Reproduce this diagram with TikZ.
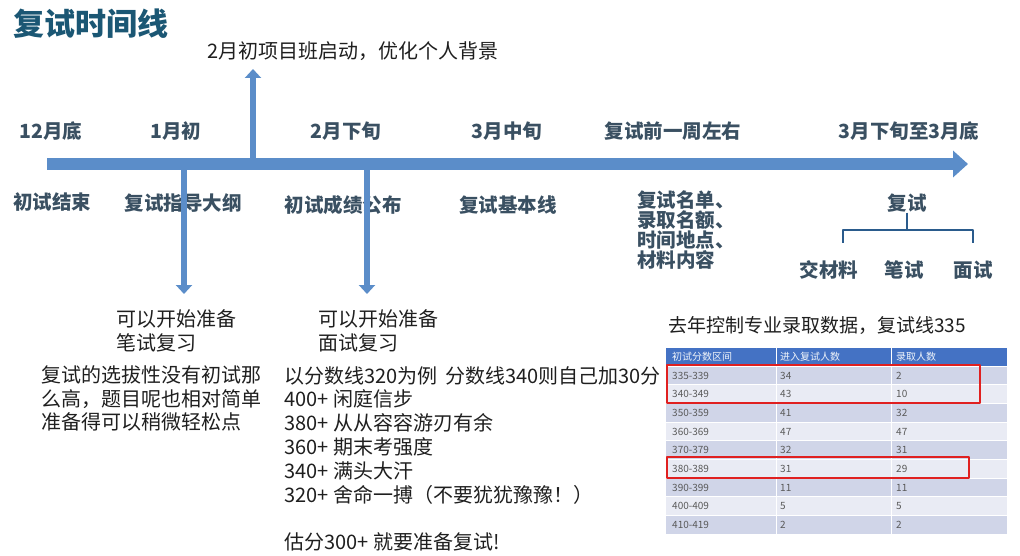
\documentclass[tikz,border=0pt]{standalone}
\usepackage{fontspec}
\setmainfont{Noto Sans CJK SC}
\usetikzlibrary{arrows.meta}

\definecolor{titleteal}{HTML}{1B5774}
\definecolor{labelslate}{HTML}{3A5062}
\definecolor{arrowblue}{HTML}{5B8DC9}
\definecolor{bracketblue}{HTML}{2A5B8C}
\definecolor{theadblue}{HTML}{4472C4}
\definecolor{rowdark}{HTML}{D0D5E8}
\definecolor{rowlight}{HTML}{E9EBF4}
\definecolor{cellgray}{HTML}{5A5A5A}
\definecolor{boxred}{HTML}{E02020}

\tikzset{
  heading/.style={anchor=base west, inner sep=0pt, text=titleteal, font=\bfseries\fontsize{31}{36}\selectfont},
  period/.style={anchor=base, inner sep=0pt, text=labelslate, font=\bfseries\fontsize{19.5}{20}\selectfont},
  event/.style={period, align=left},
  note/.style={anchor=base west, inner sep=0pt, align=left, text=black!88, font=\fontsize{20}{23.8}\selectfont},
  cell/.style={anchor=base west, inner sep=0pt, text=cellgray, font=\fontsize{10}{12}\selectfont},
  headcell/.style={cell, text=white!92!theadblue},
  tlarrow/.style={arrowblue, line width=12.5pt, -{Triangle[length=15pt, width=26pt]}},
  branch/.style={arrowblue, line width=6.5pt, -{Triangle[length=9pt, width=16pt]}},
  bracket/.style={bracketblue, line width=2.8pt},
  hilite/.style={boxred, line width=2pt}
}

\begin{document}
\begin{tikzpicture}[x=1pt, y=-1pt, line join=round]
  \useasboundingbox (0,0) rectangle (1020,556);
  % Title
  \node[heading] (title) at (13,36) {复试时间线};

  % Timeline labels above the bar
  \node[period] (p-dec) at (51,138.5) {12月底};
  \node[period] (p-jan) at (176,138.5) {1月初};
  \node[period] (p-feb) at (346,138.5) {2月下旬};
  \node[period] (p-mar) at (507,138.5) {3月中旬};
  \node[period] (p-week) at (673,138.5) {复试前一周左右};
  \node[period] (p-end) at (909,138.5) {3月下旬至3月底};

  % Events below the bar (multi-line nodes sit on their last baseline)
  \node[event] (e-first) at (52,209.5) {初试结束};
  \node[event] (e-outline) at (183,210.5) {复试指导大纲};
  \node[event] (e-score) at (343,212.5) {初试成绩公布};
  \node[event] (e-line) at (508,212.5) {复试基本线};
  \node[event, anchor=base west] (e-list) at (637,267.6) {复试名单、\\录取名额、\\时间地点、\\材料内容};
  \node[event] (e-retest) at (907,210.5) {复试};
  \node[event] (e-docs) at (829,277.5) {交材料};
  \node[event] (e-written) at (904,277.5) {笔试};
  \node[event] (e-oral) at (973,277.5) {面试};

  % Bracket under the retest
  \coordinate (br-left) at (843,243);
  \coordinate (br-right) at (973,243);
  \draw[bracket] (e-retest.south) -- (907,230);
  \draw[bracket] (br-left) -- ++(0,-13) -| (br-right);

  % Main timeline
  \coordinate (tl-start) at (47,164);
  \coordinate (tl-end) at (968,164);
  \draw[tlarrow] (tl-start) -- (tl-end);

  % Branch arrows
  \coordinate (up-foot) at (253,158);
  \coordinate (up-tip) at (253,69);
  \coordinate (dn1-foot) at (184,170);
  \coordinate (dn1-tip) at (184,294);
  \coordinate (dn2-foot) at (367,170);
  \coordinate (dn2-tip) at (367,294);
  \draw[branch] (up-foot) -- (up-tip);
  \draw[branch] (dn1-foot) -- (dn1-tip);
  \draw[branch] (dn2-foot) -- (dn2-tip);

  % Notes
  \node[note] (n-project) at (207,58.6) {2月初项目班启动，优化个人背景};
  \node[note, font=\fontsize{20}{24}\selectfont] (n-written) at (116,350.6) {可以开始准备\\笔试复习};
  \node[note, font=\fontsize{20}{24}\selectfont] (n-oral) at (318,350.6) {可以开始准备\\面试复习};
  \node[note, font=\fontsize{20}{23.5}\selectfont] (n-easy) at (41,429.6) {复试的选拔性没有初试那\\么高，题目呢也相对简单\\准备得可以稍微轻松点};
  \node[note] (n-scores) at (284,549.6) {以分数线320为例\hspace{0.4em}分数线340则自己加30分\\400+ 闲庭信步\\380+ 从从容容游刃有余\\360+ 期末考强度\\340+ 满头大汗\\320+ 舍命一搏（不要犹犹豫豫！）\\[23.8pt]估分300+ 就要准备复试!};
  \node[note, font=\fontsize{19}{22}\selectfont] (n-data) at (668,332.2) {去年控制专业录取数据，复试线335};

  % Admission table
  \fill[theadblue] (666,348) rectangle (1007,366);
  \node[headcell] (h-range) at (672,360.5) {初试分数区间};
  \node[headcell] (h-enter) at (780,360.5) {进入复试人数};
  \node[headcell] (h-admit) at (896,360.5) {录取人数};
  \foreach \rng/\na/\nb [count=\i] in {335-339/34/2, 340-349/43/10, 350-359/41/32, 360-369/47/47, 370-379/32/31, 380-389/31/29, 390-399/11/11, 400-409/5/5, 410-419/2/2} {
    \pgfmathsetmacro\rowy{366+(\i-1)*18.67}
    \ifodd\i
      \fill[rowdark] (666,\rowy) rectangle (1007,\rowy+18.67);
    \else
      \fill[rowlight] (666,\rowy) rectangle (1007,\rowy+18.67);
    \fi
    \draw[white, line width=0.6pt] (666,\rowy) -- (1007,\rowy);
    \node[cell] (r\i-range) at (672,\rowy+13.1) {\rng};
    \node[cell] (r\i-enter) at (780,\rowy+13.1) {\na};
    \node[cell] (r\i-admit) at (896,\rowy+13.1) {\nb};
  }
  \draw[white, line width=0.8pt] (776,348) -- (776,534) (891,348) -- (891,534);

  % Highlight boxes
  \draw[hilite] (667,365) rectangle (980,403);
  \draw[hilite] (667,457) rectangle (969,478);
\end{tikzpicture}
\end{document}
